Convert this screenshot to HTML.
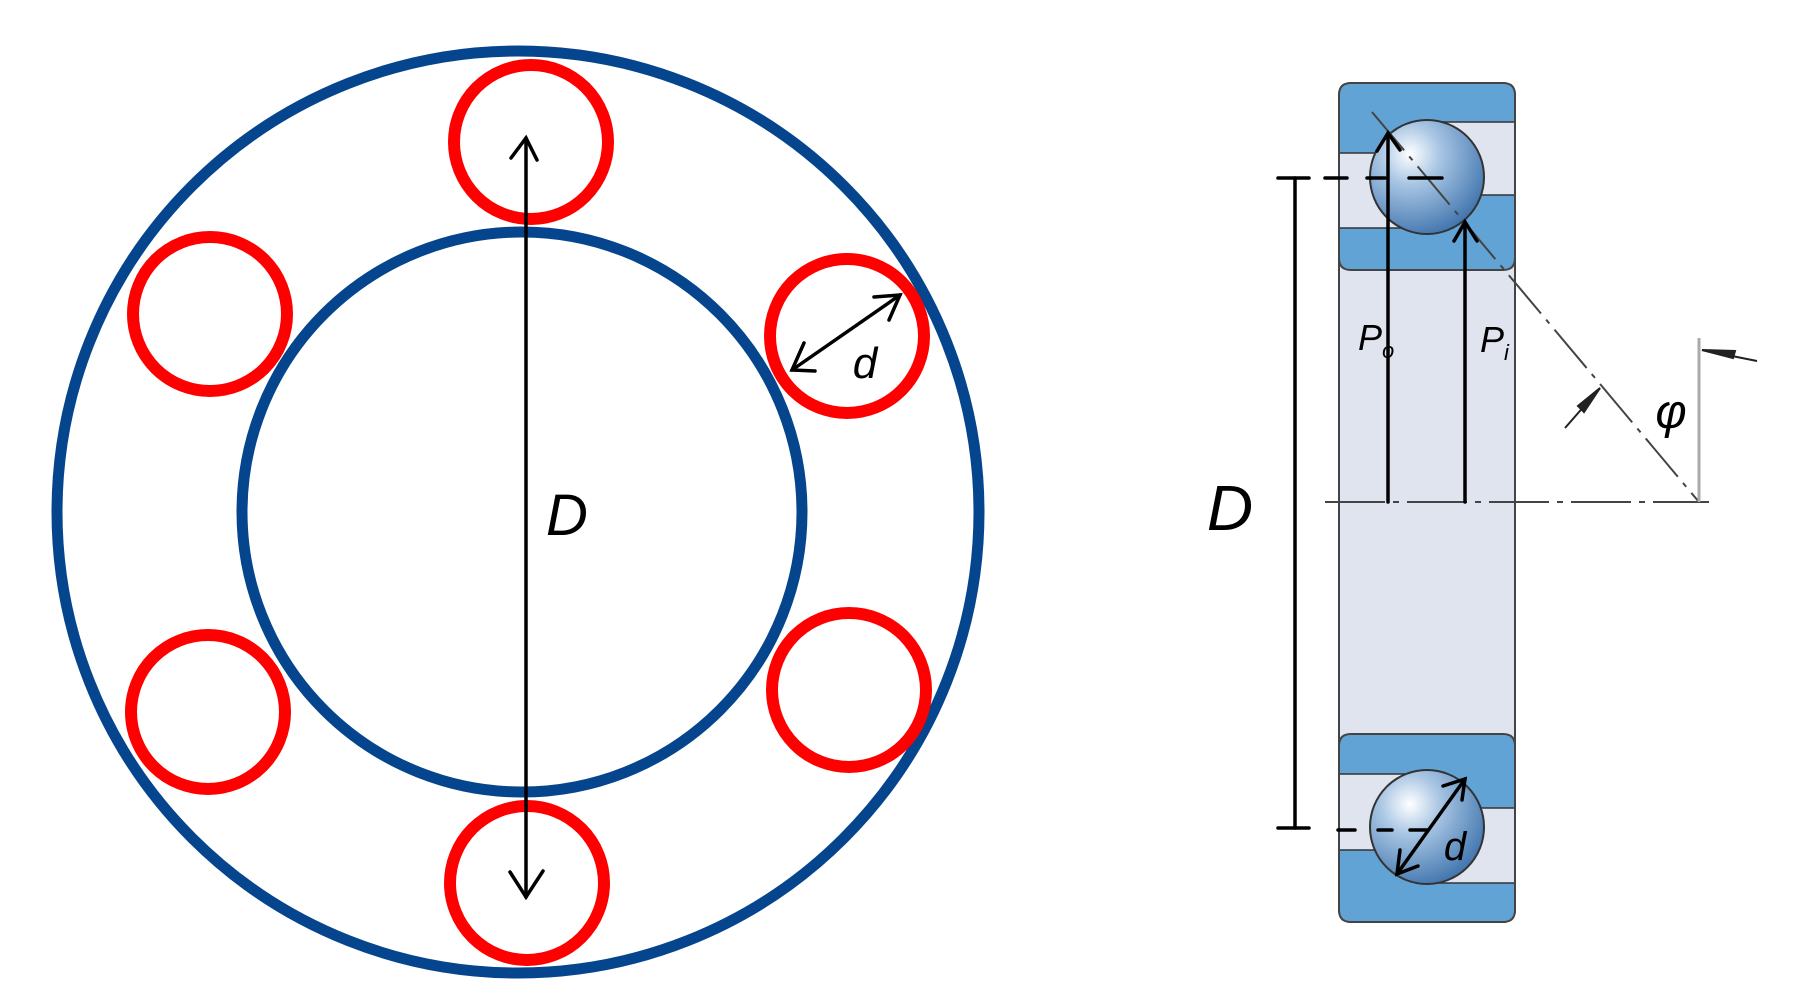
<!DOCTYPE html>
<html><head><meta charset="utf-8"><style>
html,body{margin:0;padding:0;background:#fff;}
svg{display:block;}
text{font-family:"Liberation Sans",sans-serif;}
</style></head><body>
<svg width="1798" height="1000" viewBox="0 0 1798 1000" xmlns="http://www.w3.org/2000/svg">
<defs>
<radialGradient id="ball" cx="0.35" cy="0.3" r="0.75">
<stop offset="0" stop-color="#ffffff"/>
<stop offset="0.35" stop-color="#a9c6e4"/>
<stop offset="1" stop-color="#3f74ad"/>
</radialGradient>
</defs>
<!-- Left diagram -->
<circle cx="518" cy="512" r="461" fill="none" stroke="#05458d" stroke-width="11"/>
<circle cx="522" cy="512" r="280" fill="none" stroke="#05458d" stroke-width="11"/>
<g fill="none" stroke="#ff0000" stroke-width="12">
<circle cx="531" cy="142" r="77"/>
<circle cx="210" cy="314" r="77"/>
<circle cx="847" cy="336" r="77"/>
<circle cx="208" cy="712" r="77"/>
<circle cx="849" cy="690" r="77"/>
<circle cx="527" cy="883" r="77"/>
</g>
<g stroke="#000" stroke-width="3.5" fill="none" stroke-linecap="round">
<line x1="526" y1="138" x2="526" y2="897"/>
<polyline points="511,158 526,138 537,160"/>
<polyline points="510,872 526,897 543,871"/>
<line x1="792" y1="370" x2="900" y2="295"/>
<polyline points="804,343 792,370 815,371"/>
<polyline points="874,297 900,295 889,320"/>
</g>
<text x="567" y="535" font-size="58" font-style="italic" text-anchor="middle">D</text>
<text x="865" y="378" font-size="44" font-style="italic" text-anchor="middle">d</text>
<!-- Right diagram -->
<rect x="1339" y="83" width="176" height="839" rx="12" fill="#e0e4ef" stroke="#444" stroke-width="2"/>
<!-- top band -->
<path d="M1351,83 H1503 Q1515,83 1515,95 V258 Q1515,270 1503,270 H1351 Q1339,270 1339,258 V95 Q1339,83 1351,83 Z" fill="#62a3d6" stroke="#444" stroke-width="2"/>
<rect x="1340" y="153" width="90" height="75" fill="#e0e4ef"/>
<rect x="1425" y="122" width="89" height="73" fill="#e0e4ef"/>
<g stroke="#333" stroke-width="1.5"><line x1="1340" y1="153" x2="1420" y2="153"/><line x1="1340" y1="228" x2="1420" y2="228"/><line x1="1430" y1="122" x2="1514" y2="122"/><line x1="1430" y1="195" x2="1514" y2="195"/></g>
<circle cx="1427" cy="177" r="57" fill="url(#ball)" stroke="#333" stroke-width="2"/>
<!-- bottom band -->
<path d="M1351,734 H1503 Q1515,734 1515,746 V910 Q1515,922 1503,922 H1351 Q1339,922 1339,910 V746 Q1339,734 1351,734 Z" fill="#62a3d6" stroke="#444" stroke-width="2"/>
<rect x="1340" y="774" width="90" height="76" fill="#e0e4ef"/>
<rect x="1425" y="808" width="89" height="75" fill="#e0e4ef"/>
<g stroke="#333" stroke-width="1.5"><line x1="1340" y1="774" x2="1420" y2="774"/><line x1="1340" y1="850" x2="1420" y2="850"/><line x1="1430" y1="808" x2="1514" y2="808"/><line x1="1430" y1="883" x2="1514" y2="883"/></g>
<circle cx="1427" cy="827" r="57" fill="url(#ball)" stroke="#333" stroke-width="2"/>
<!-- center lines -->
<line x1="1325" y1="502" x2="1709" y2="502" stroke="#444" stroke-width="2" stroke-dasharray="60,8,6,8"/>
<line x1="1372" y1="112" x2="1699" y2="502" stroke="#444" stroke-width="2" stroke-dasharray="50,8,5,8"/>
<line x1="1699" y1="338" x2="1699" y2="502" stroke="#aaa" stroke-width="3"/>
<g stroke="#222" stroke-width="2" fill="#222">
<line x1="1702" y1="350" x2="1757" y2="361"/>
<polygon points="1702,350 1735,351 1733,358"/>
<line x1="1565" y1="428" x2="1600" y2="388"/>
<polygon points="1600,388 1584,412 1578,406"/>
</g>
<!-- dimension D -->
<g stroke="#000" stroke-width="3.5" fill="none" stroke-linecap="round">
<line x1="1295" y1="178" x2="1295" y2="828"/>
<line x1="1278" y1="178" x2="1309" y2="178"/>
<line x1="1278" y1="828" x2="1309" y2="828"/>
<line x1="1325" y1="178" x2="1347" y2="178"/><line x1="1367" y1="178" x2="1385" y2="178"/><line x1="1409" y1="178" x2="1442" y2="178"/>
<line x1="1338" y1="830" x2="1355" y2="830"/><line x1="1378" y1="830" x2="1392" y2="830"/><line x1="1410" y1="830" x2="1428" y2="830"/>
<line x1="1388" y1="502" x2="1388" y2="133"/>
<polyline points="1377,151 1388,133 1400,150"/>
<line x1="1465" y1="502" x2="1465" y2="222"/>
<polyline points="1454,241 1465,222 1477,241"/>
<line x1="1397" y1="874" x2="1465" y2="779"/>
<polyline points="1400,850 1397,874 1418,866"/>
<polyline points="1443,786 1465,779 1462,800"/>
</g>
<text x="1230" y="530" font-size="64" font-style="italic" text-anchor="middle">D</text>
<text x="1358" y="350" font-size="36" font-style="italic">P<tspan font-size="22" dy="8">o</tspan></text>
<text x="1480" y="352" font-size="36" font-style="italic">P<tspan font-size="22" dy="8">i</tspan></text>
<text x="1671" y="428" font-size="48" font-style="italic" text-anchor="middle">φ</text>
<text x="1455" y="860" font-size="40" font-style="italic" text-anchor="middle">d</text>
</svg>
</body></html>
